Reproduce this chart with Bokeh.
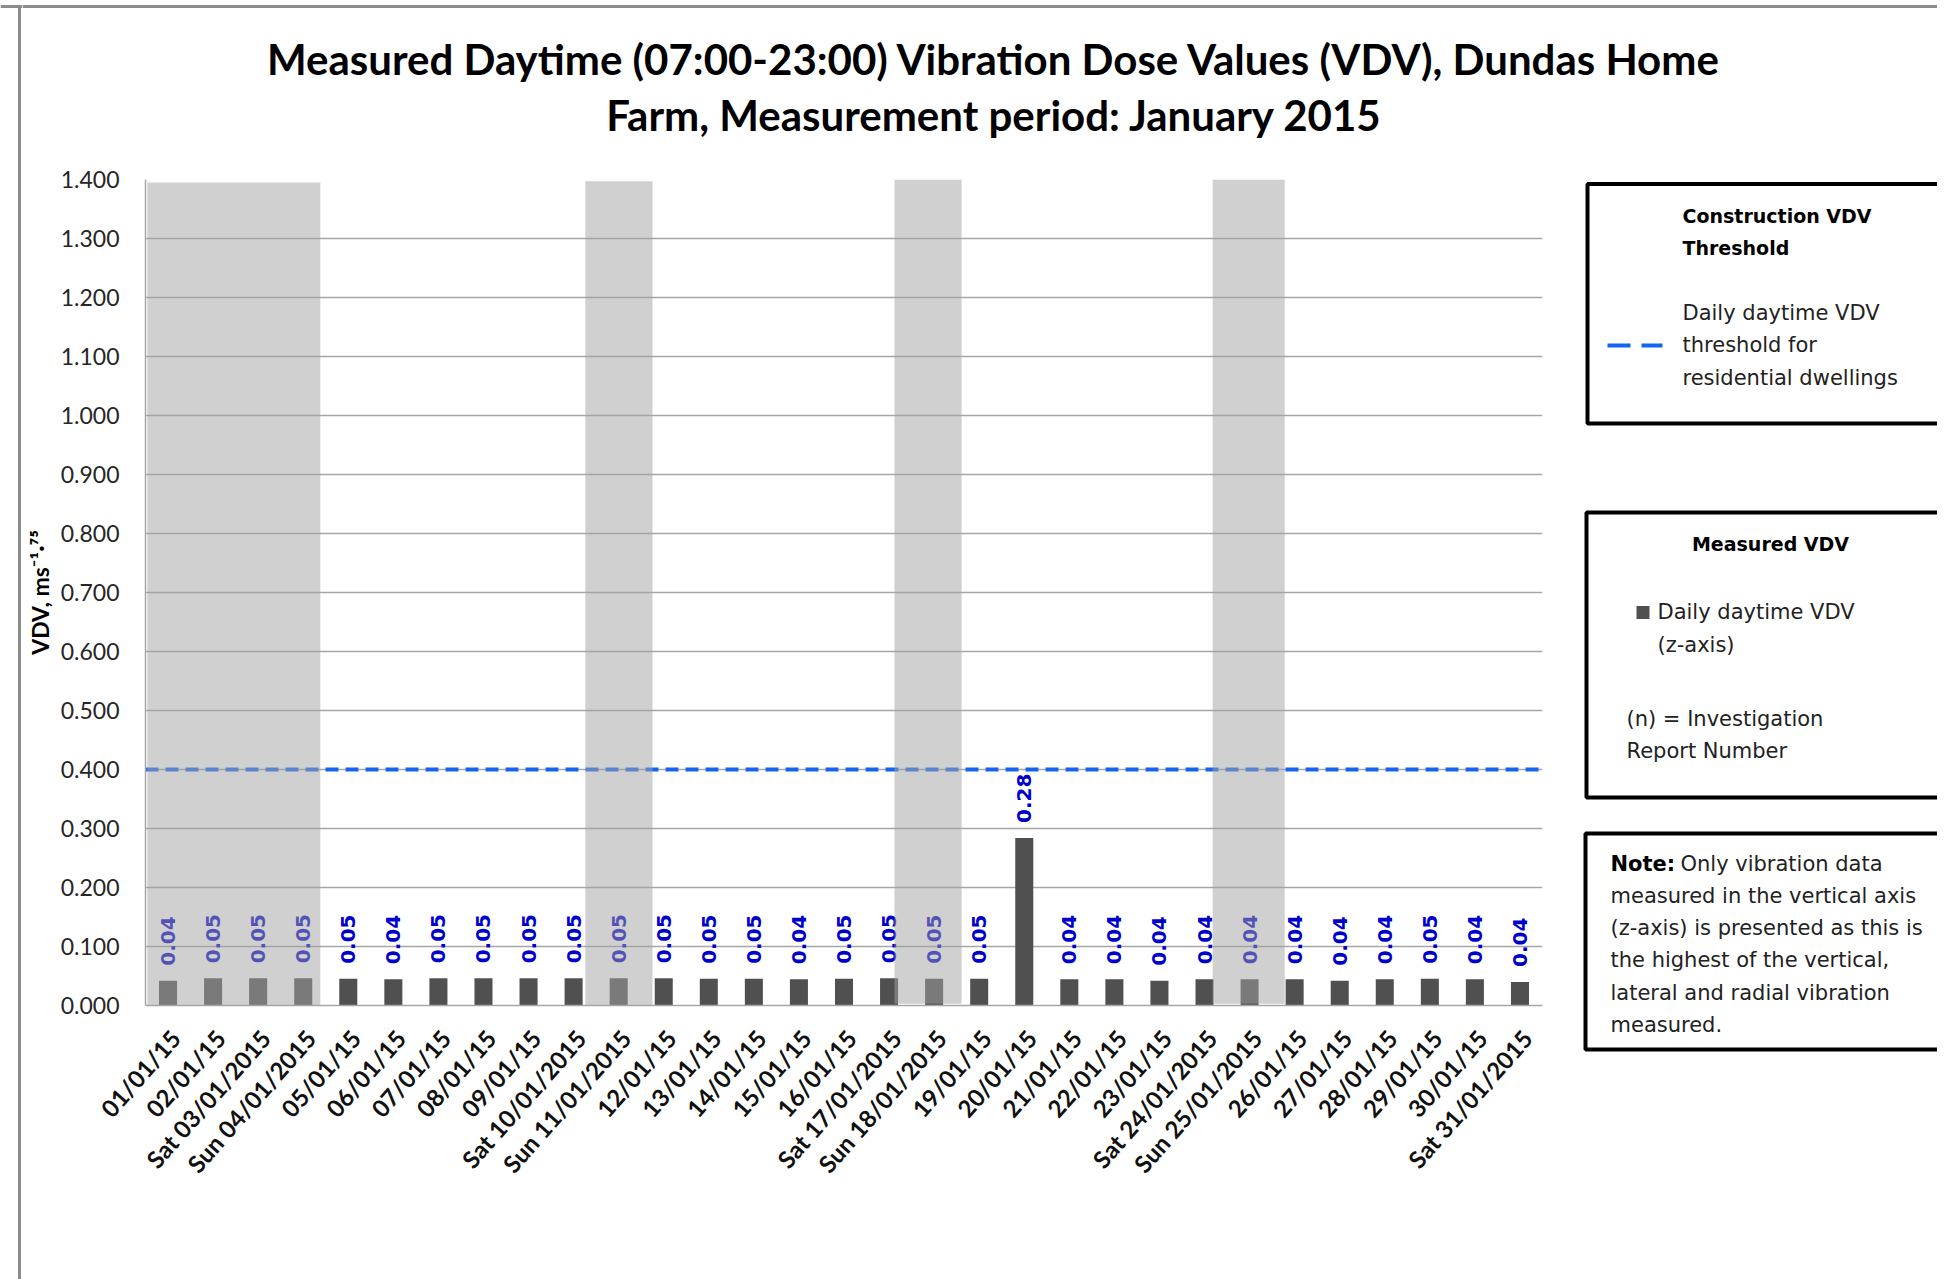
import math
from bokeh.plotting import figure
from bokeh.layouts import row, column
from bokeh.models import Range1d, FixedTicker, NumeralTickFormatter
from bokeh.core.properties import value
from bokeh.embed import file_html
from bokeh.resources import INLINE

# ---------------- data ----------------
dates = ["01/01/15", "02/01/15", "Sat 03/01/2015", "Sun 04/01/2015", "05/01/15",
         "06/01/15", "07/01/15", "08/01/15", "09/01/15", "Sat 10/01/2015",
         "Sun 11/01/2015", "12/01/15", "13/01/15", "14/01/15", "15/01/15",
         "16/01/15", "Sat 17/01/2015", "Sun 18/01/2015", "19/01/15", "20/01/15",
         "21/01/15", "22/01/15", "23/01/15", "Sat 24/01/2015", "Sun 25/01/2015",
         "26/01/15", "27/01/15", "28/01/15", "29/01/15", "30/01/15", "Sat 31/01/2015"]
vdv = [0.042, 0.046, 0.046, 0.046, 0.0452, 0.0445, 0.046, 0.046, 0.046, 0.046,
       0.046, 0.046, 0.0452, 0.0452, 0.0445, 0.0452, 0.046, 0.0452, 0.0452, 0.284,
       0.0445, 0.0445, 0.042, 0.0445, 0.0445, 0.0445, 0.042, 0.0445, 0.0452, 0.0445, 0.040]
vdv_labels = ["%.2f" % v for v in vdv]
threshold = 0.4
y_ticks = [round(0.1 * k, 1) for k in range(15)]

# weekend / holiday shading (category units, index-centred)
band_left = [-0.46, 9.26, 16.12, 23.18]
band_right = [3.38, 10.75, 17.61, 24.78]
band_bottom = [-0.003, 0.0, 0.003, 0.003]
band_top = [1.395, 1.397, 1.40, 1.40]

idx = list(range(len(dates)))
N = len(dates)

BLUE = "#1464f4"
GRID = "#a6a6a6"
LABEL_SHIFT = 0.16   # category-label offset (Excel places rotated labels right of the tick)

# ---------------- main chart ----------------
p = figure(width=1538, height=1131, x_range=Range1d(-0.5, N - 0.5),
           y_range=Range1d(0, 1.4), output_backend="svg", toolbar_location=None,
           title=None, min_border_left=123, min_border_right=18,
           min_border_top=31, min_border_bottom=274)
p.extra_x_ranges = {"lbl": Range1d(-0.5 - LABEL_SHIFT, N - 0.5 - LABEL_SHIFT)}
p.outline_line_color = None
p.xgrid.visible = False
p.ygrid.grid_line_color = GRID
p.ygrid.grid_line_width = 1.5
p.ygrid.ticker = FixedTicker(ticks=y_ticks)

p.vbar(x=idx, top=vdv, width=0.4, fill_color="#505050", line_color=None)
p.text(x=idx, y=vdv, text=vdv_labels, angle=math.pi / 2, text_align="left",
       text_baseline="middle", y_offset=-15, text_font=value("DejaVu Sans"),
       text_font_style="bold", text_font_size="20px", text_color="#0000cc")
p.hspan(y=[threshold], line_color=BLUE, line_width=4, line_dash="13 7")
p.quad(left=band_left, right=band_right, bottom=band_bottom, top=band_top,
       fill_color="#a3a3a3", fill_alpha=0.51, line_color=None)

ya = p.yaxis[0]
ya.ticker = FixedTicker(ticks=y_ticks)
ya.formatter = NumeralTickFormatter(format="0.000")
ya.major_tick_line_color = None
ya.minor_tick_line_color = None
ya.major_tick_out = 0
ya.major_tick_in = 0
ya.axis_line_color = GRID
ya.axis_line_width = 1.5
ya.major_label_text_font = "Lato"
ya.major_label_text_font_size = "23px"
ya.major_label_text_color = "#262626"
ya.major_label_standoff = 26
ya.axis_label = "VDV, ms\u207b\u00b9\u00b7\u2077\u2075"
ya.axis_label_text_font = "Lato"
ya.axis_label_text_font_style = "bold"
ya.axis_label_text_font_size = "23px"
ya.axis_label_text_color = "#000000"
ya.axis_label_standoff = 4

xa = p.xaxis[0]
xa.x_range_name = "lbl"
xa.ticker = FixedTicker(ticks=idx)
xa.major_label_overrides = {i: d for i, d in zip(idx, dates)}
xa.major_label_orientation = 0.85
xa.major_tick_line_color = None
xa.minor_tick_line_color = None
xa.major_tick_out = 0
xa.major_tick_in = 0
xa.axis_line_color = GRID
xa.axis_line_width = 1.5
xa.major_label_text_font = "Lato"
xa.major_label_text_font_style = "bold"
xa.major_label_text_font_size = "24px"
xa.major_label_text_color = "#111111"
xa.major_label_standoff = 28


def blank(w, h):
    f = figure(width=w, height=h, x_range=Range1d(0, w), y_range=Range1d(h, 0),
               output_backend="svg", toolbar_location=None, title=None,
               x_axis_location=None, y_axis_location=None, min_border=0)
    f.outline_line_color = None
    f.grid.visible = False
    return f


# ---------------- left strip (outer frame border) ----------------
strip = blank(22, 1279)
strip.segment(x0=[0, 19], y0=[6, 5], x1=[22, 19], y1=[6, 1279], line_color="#8c8c8c", line_width=3)

# ---------------- title ----------------
tf = blank(1915, 148)
tf.segment(x0=[0], y0=[6], x1=[1915], y1=[6], line_color="#8c8c8c", line_width=3)
tf.text(x=[972, 972],
        y=[58, 114],
        text=["Measured Daytime (07:00-23:00) Vibration Dose Values (VDV), Dundas Home",
              "Farm, Measurement period: January 2015"],
        text_align="center", text_baseline="middle", text_font=value("Lato"),
        text_font_style="bold", text_font_size="42px", text_color="#000000")

# ---------------- legend boxes ----------------
lf = blank(377, 1131)
lf.quad(left=[27, 26, 25], right=[420, 420, 420], top=[35.5, 364, 685], bottom=[275, 649, 901],
        fill_color=None, line_color="#000000", line_width=4)
F = value("DejaVu Sans")
lf.text(x=[122, 122], y=[67, 99], text=["Construction  VDV", "Threshold"],
        text_font=F, text_font_style="bold", text_font_size="19px",
        text_baseline="middle", text_color="#000000")
lf.text(x=[122, 122, 122], y=[164.6, 196.8, 229],
        text=["Daily daytime VDV", "threshold for", "residential dwellings"],
        text_font=F, text_font_size="21px", text_baseline="middle", text_color="#222222")
lf.segment(x0=[47], y0=[197], x1=[102], y1=[197], line_color=BLUE, line_width=4, line_dash="23 11")

lf.text(x=[210], y=[395], text=["Measured VDV"], text_font=F, text_font_style="bold",
        text_font_size="19px", text_align="center", text_baseline="middle", text_color="#000000")
lf.scatter(x=[82.5], y=[464], marker="square", size=13, fill_color="#505050", line_color=None)
lf.text(x=[97, 97, 66, 66], y=[463.5, 496, 570, 602],
        text=["Daily daytime VDV", "(z-axis)", "(n) = Investigation", "Report Number"],
        text_font=F, text_font_size="21px", text_baseline="middle", text_color="#222222")

lf.text(x=[50], y=[715], text=["Note:"], text_font=F, text_font_style="bold",
        text_font_size="21px", text_baseline="middle", text_color="#000000")
lf.text(x=[120, 50, 50, 50, 50, 50], y=[715, 747.3, 779.6, 811.9, 844.2, 876.5],
        text=["Only vibration data", "measured in the vertical axis",
              "(z-axis) is presented  as this is", "the highest of the vertical,",
              "lateral and radial vibration", "measured."],
        text_font=F, text_font_size="21px", text_baseline="middle", text_color="#222222")

layout = row(strip, column(tf, row(column(p), column(lf))))

open("out.html", "w").write(file_html(layout, INLINE))
